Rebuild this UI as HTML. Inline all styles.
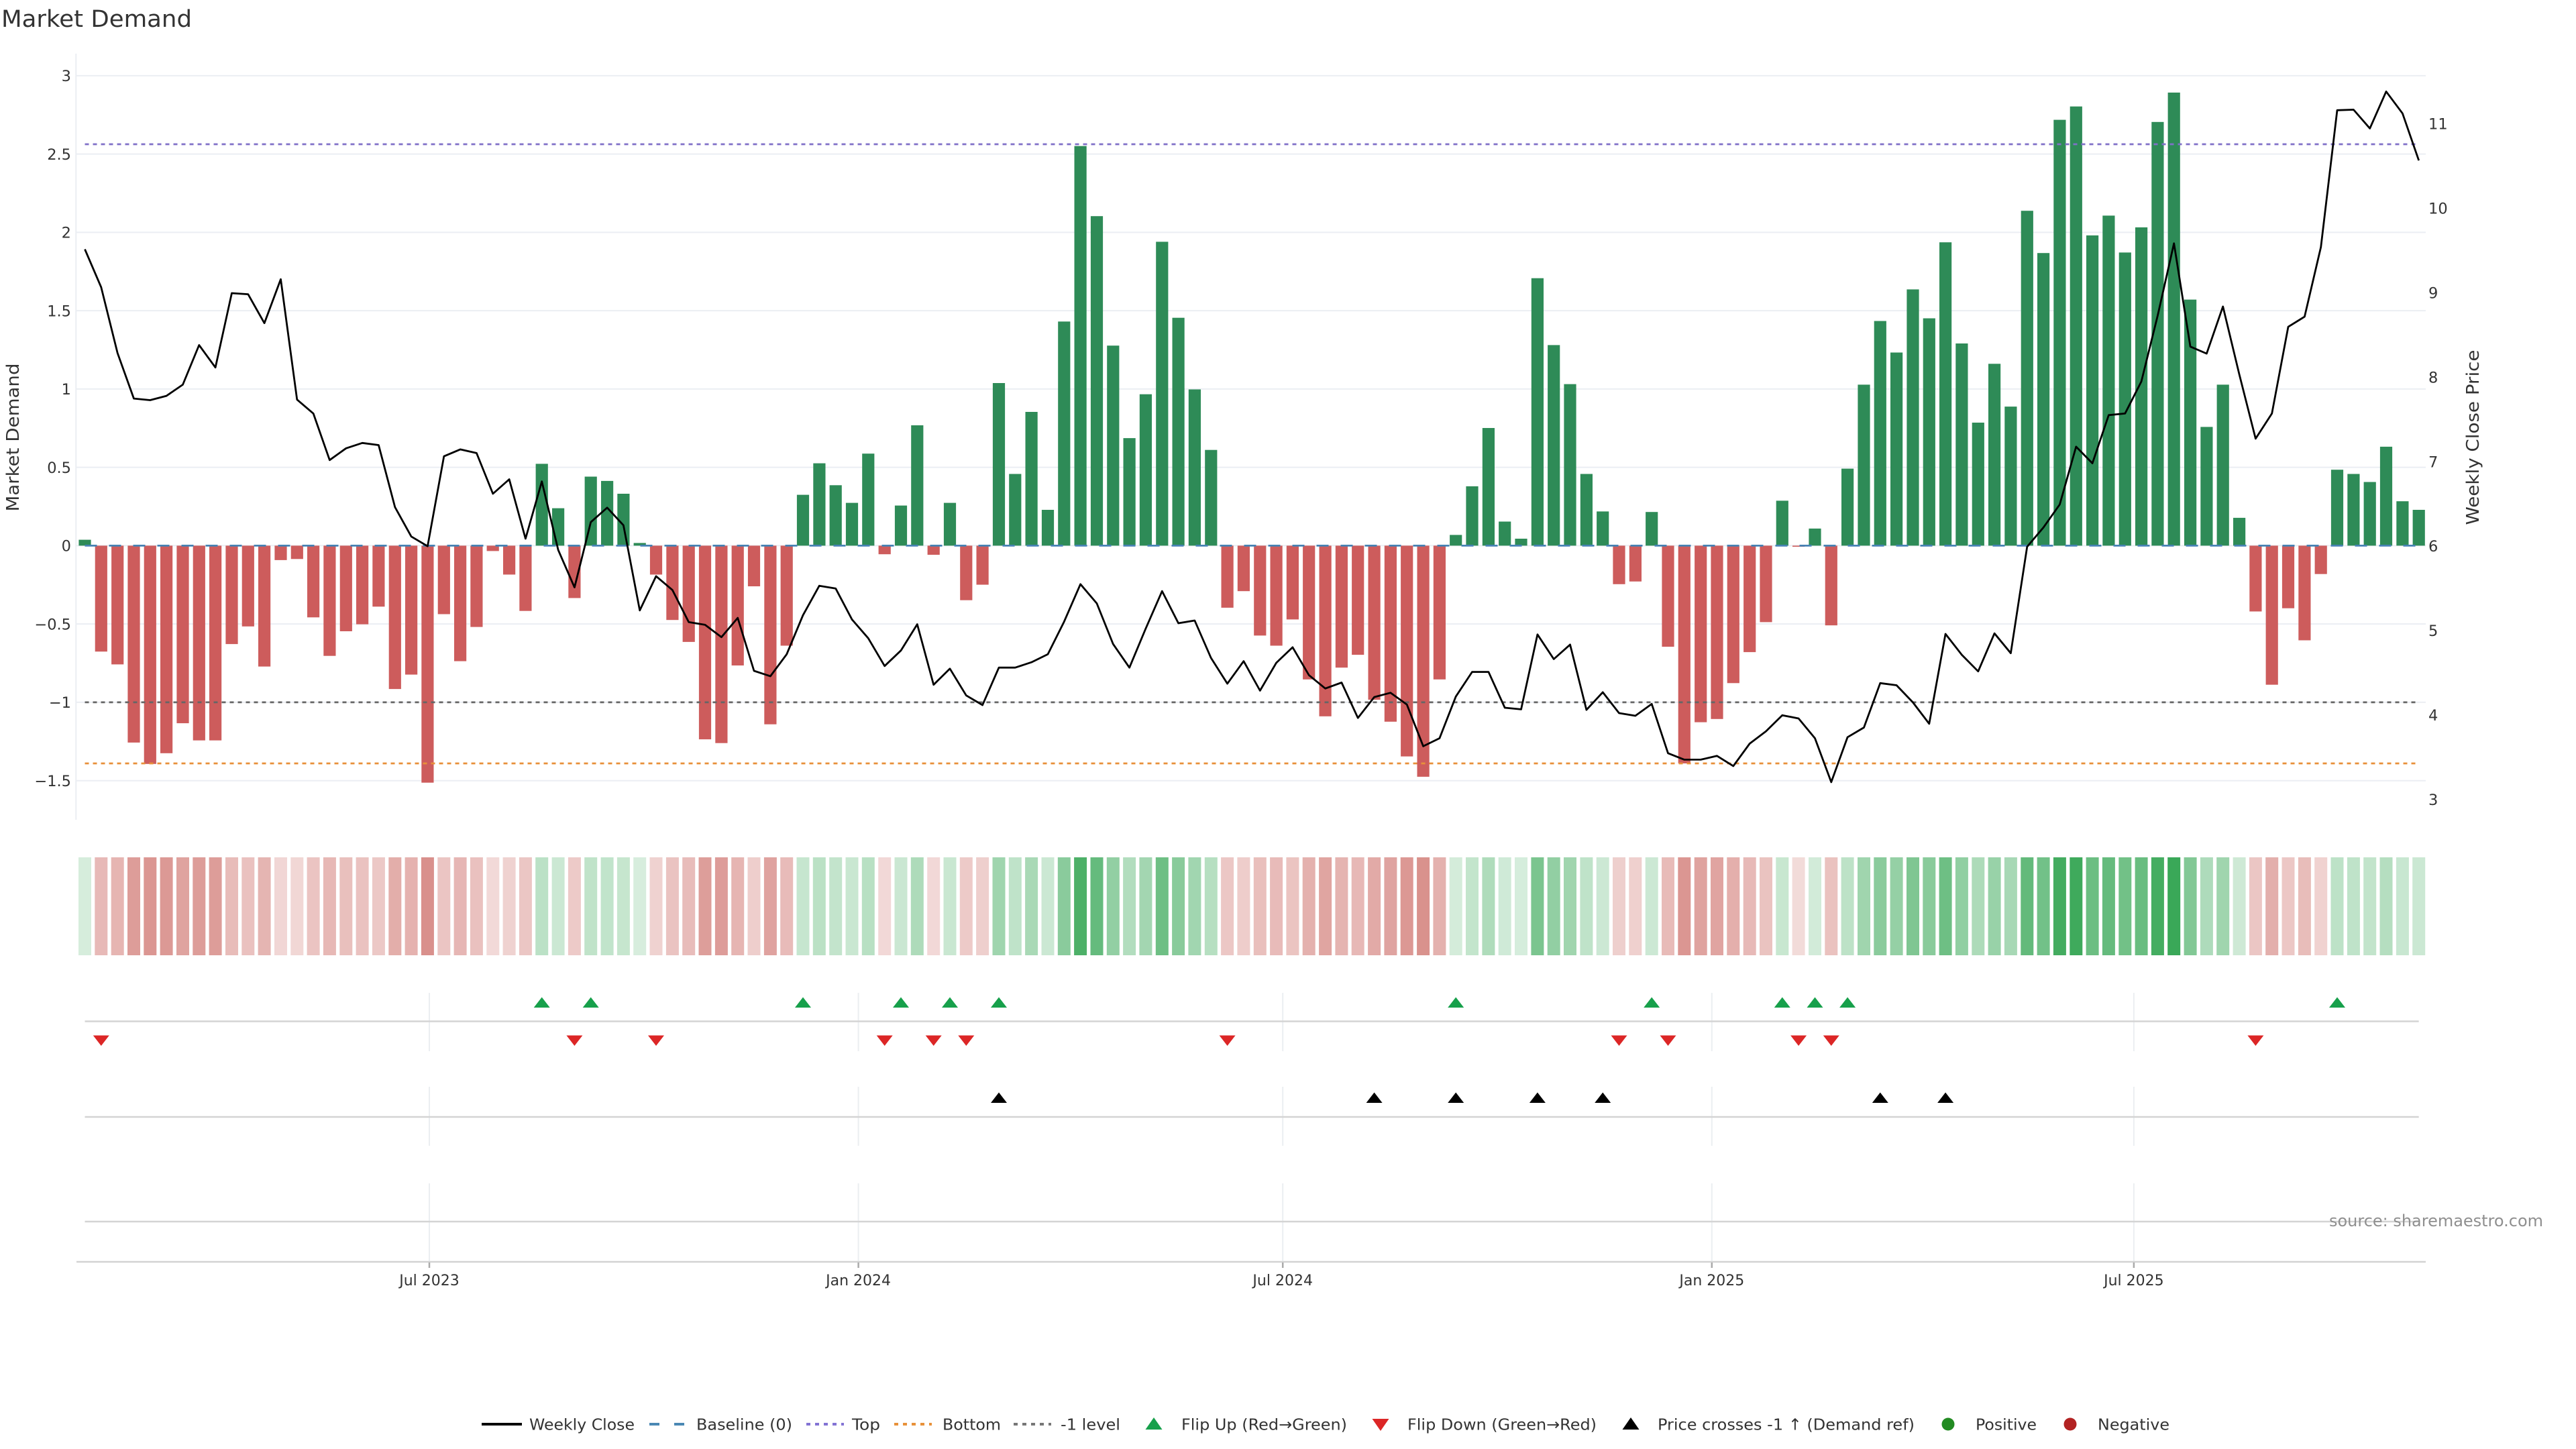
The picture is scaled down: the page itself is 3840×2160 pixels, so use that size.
<!DOCTYPE html>
<html>
<head>
<meta charset="utf-8">
<style>
html,body{margin:0;padding:0;background:#ffffff;}
svg{display:block;}
text{font-family:"DejaVu Sans","Liberation Sans",sans-serif;}
</style>
</head>
<body>
<svg id="c" width="3840" height="2160" viewBox="0 0 3840 2160" xmlns="http://www.w3.org/2000/svg">
  <rect x="0" y="0" width="3840" height="2160" fill="#ffffff"/>
  <!-- Title -->
  <text x="2" y="40" font-size="35" fill="#333" textLength="284" lengthAdjust="spacingAndGlyphs">Market Demand</text>

  <!-- gridlines main -->
  <g id="grid" stroke="#ebeef3" stroke-width="2"></g>
  <line x1="113.3" y1="80" x2="113.3" y2="1222" stroke="#ebeef3" stroke-width="2"/>

  <!-- left tick labels -->
  <g font-size="22.5" fill="#333" text-anchor="end">
    <text x="106" y="121.2">3</text>
    <text x="106" y="237.9">2.5</text>
    <text x="106" y="354.7">2</text>
    <text x="106" y="471.4">1.5</text>
    <text x="106" y="588.1">1</text>
    <text x="106" y="704.9">0.5</text>
    <text x="106" y="821.6">0</text>
    <text x="106" y="938.4">−0.5</text>
    <text x="106" y="1055.1">−1</text>
    <text x="106" y="1171.9">−1.5</text>
  </g>
  <!-- right tick labels -->
  <g font-size="22.5" fill="#333">
    <text x="3620" y="1199.9">3</text>
    <text x="3620" y="1074">4</text>
    <text x="3620" y="948.1">5</text>
    <text x="3620" y="822.2">6</text>
    <text x="3620" y="696.3">7</text>
    <text x="3620" y="570.4">8</text>
    <text x="3620" y="444.5">9</text>
    <text x="3620" y="318.6">10</text>
    <text x="3620" y="192.7">11</text>
  </g>
  <!-- axis titles -->
  <text transform="translate(28,652) rotate(-90)" font-size="26" fill="#333" text-anchor="middle" textLength="221" lengthAdjust="spacingAndGlyphs">Market Demand</text>
  <text transform="translate(3695,652) rotate(-90)" font-size="26" fill="#333" text-anchor="middle" textLength="261" lengthAdjust="spacingAndGlyphs">Weekly Close Price</text>

  <g id="bars"></g>
  <g id="levels"></g>
  <g id="price"></g>
  <g id="heat"></g>

  <!-- marker rows -->
  <g id="rows"></g>

  <!-- x axis -->
  <line x1="114" y1="1881" x2="3616" y2="1881" stroke="#d3d3d3" stroke-width="2.5"/>
  <g stroke="#aaaaaa" stroke-width="2.5">
    <line x1="640" y1="1882" x2="640" y2="1890"/>
    <line x1="1279.6" y1="1882" x2="1279.6" y2="1890"/>
    <line x1="1912.2" y1="1882" x2="1912.2" y2="1890"/>
    <line x1="2551.8" y1="1882" x2="2551.8" y2="1890"/>
    <line x1="3180.9" y1="1882" x2="3180.9" y2="1890"/>
  </g>
  <g font-size="22" fill="#333" text-anchor="middle">
    <text x="640" y="1916">Jul 2023</text>
    <text x="1279.6" y="1916">Jan 2024</text>
    <text x="1912.2" y="1916">Jul 2024</text>
    <text x="2551.8" y="1916">Jan 2025</text>
    <text x="3180.9" y="1916">Jul 2025</text>
  </g>

  <!-- source -->
  <text x="3472" y="1828" font-size="24" fill="#8f8f8f" textLength="319" lengthAdjust="spacingAndGlyphs">source: sharemaestro.com</text>

  <!-- Legend -->
  <g>
    <line x1="718" y1="2123" x2="778" y2="2123" stroke="#000" stroke-width="4"/>
    <text x="789" y="2131.5" font-size="23.5" fill="#333" textLength="157" lengthAdjust="spacingAndGlyphs">Weekly Close</text>

    <rect x="968" y="2121" width="15" height="4" fill="#4a88b4"/>
    <rect x="1005" y="2121" width="15" height="4" fill="#4a88b4"/>
    <text x="1038" y="2131.5" font-size="23.5" fill="#333" textLength="143" lengthAdjust="spacingAndGlyphs">Baseline (0)</text>

    <line x1="1202" y1="2123" x2="1258" y2="2123" stroke="#8373d4" stroke-width="4" stroke-dasharray="6,7"/>
    <text x="1270" y="2131.5" font-size="23.5" fill="#333" textLength="42" lengthAdjust="spacingAndGlyphs">Top</text>

    <line x1="1333" y1="2123" x2="1389" y2="2123" stroke="#e8913a" stroke-width="4" stroke-dasharray="6,7"/>
    <text x="1405" y="2131.5" font-size="23.5" fill="#333" textLength="87" lengthAdjust="spacingAndGlyphs">Bottom</text>

    <line x1="1511" y1="2123" x2="1567" y2="2123" stroke="#777" stroke-width="4" stroke-dasharray="6,7"/>
    <text x="1581" y="2131.5" font-size="23.5" fill="#333" textLength="89" lengthAdjust="spacingAndGlyphs">-1 level</text>

    <path d="M1707.5,2131 L1732.5,2131 L1720,2113 Z" fill="#17a04b"/>
    <text x="1761" y="2131.5" font-size="23.5" fill="#333" textLength="247" lengthAdjust="spacingAndGlyphs">Flip Up (Red→Green)</text>

    <path d="M2045.5,2115 L2070.5,2115 L2058,2133 Z" fill="#dc2626"/>
    <text x="2098" y="2131.5" font-size="23.5" fill="#333" textLength="282" lengthAdjust="spacingAndGlyphs">Flip Down (Green→Red)</text>

    <path d="M2418.5,2131 L2443.5,2131 L2431,2113 Z" fill="#000"/>
    <text x="2471" y="2131.5" font-size="23.5" fill="#333" textLength="383" lengthAdjust="spacingAndGlyphs">Price crosses -1 ↑ (Demand ref)</text>

    <circle cx="2904" cy="2123" r="9.5" fill="#228b22"/>
    <text x="2945" y="2131.5" font-size="23.5" fill="#333" textLength="91" lengthAdjust="spacingAndGlyphs">Positive</text>

    <circle cx="3086" cy="2123" r="9.5" fill="#b22222"/>
    <text x="3127" y="2131.5" font-size="23.5" fill="#333" textLength="107" lengthAdjust="spacingAndGlyphs">Negative</text>
  </g>
</svg>
<script>
(function(){
var NS="http://www.w3.org/2000/svg";
var B=[1009,1218,1242,1388,1428,1408,1352,1384,1384,1204,1171,1246,1047,1045,1154,1226,1180,1167,1134,1288,1261,1463,1148,1236,1172,1030,1074,1142,867,950,1118,891,899,923,1015,1074,1159,1200,1382,1389,1244,1096,1354,1207,925,866,907,940,848,
1036,945,795,1037,940,1122,1093,716,886,770,953,601,273,404,646,819,737,452,594,728,841,1136,1105,1188,1207,1158,1270,1339,1248,1224,1308,1349,1414,1452,1270,1000,909,800,975,1007,520,645,718,886,956,1092,1087,957,1209,1427,1350,1344,
1277,1219,1163,936,1022,988,1169,876,719,600,659,541,595,453,642,790,680,760,394,473,224,199,440,403,472,425,228,173,560,798,719,968,1143,1280,1137,1197,1073,878,886,901,835,937,953];
var P=[466,537,660,745,748,740,719,645,687,548,550,604,522,747,773,860,838,828,832,948,1003,1021,853,840,847,923,896,1007,900,1028,1098,976,949,982,1141,1077,1103,1163,1168,1191,1155,1254,1264,1223,1150,1095,1100,1158,1193,
1245,1216,1167,1280,1250,1300,1318,1248,1248,1238,1223,1162,1092,1128,1204,1248,1175,1105,1165,1160,1230,1278,1236,1291,1239,1210,1262,1287,1276,1342,1303,1295,1317,1395,1380,1302,1256,1256,1323,1326,1186,1232,1205,1327,1294,1333,1338,1316,1408,1420,1420,1413,
1432,1390,1367,1337,1343,1380,1462,1378,1360,1277,1281,1313,1353,1185,1224,1255,1184,1221,1022,986,943,835,866,776,773,713,590,455,648,661,573,700,820,773,611,592,462,206,205,240,171,212,300];
var S=1.254, X0=126.5, DX=24.33, BW=18.2, Z=813.4, U=233.5;
var N=Math.min(B.length,P.length);
function cx(i){return X0+DX*i;}

// grid
var g='';
for(var k=0;k<10;k++){var v=3-0.5*k;var y=(Z-U*v).toFixed(1);
 g+='<line x1="113" y1="'+y+'" x2="3616" y2="'+y+'"/>';}
document.getElementById('grid').innerHTML=g;

// bars
var s='';
for(var i=0;i<N;i++){
 var y=B[i]/S, v=(Z-y)/U, top=Math.min(y,Z), h=Math.abs(y-Z);
 if(h<1.5){h=1.5; top=(v<0)?Z:Z-1.5;}
 s+='<rect x="'+(cx(i)-BW/2).toFixed(1)+'" y="'+top.toFixed(1)+'" width="'+BW+'" height="'+h.toFixed(1)+'" fill="'+(v>=0?'#2e8b57':'#cd5c5c')+'"/>';
}
document.getElementById('bars').innerHTML=s;

// levels
var xa=X0, xb=cx(N-1);
var L='';
L+='<line x1="'+xa+'" y1="215" x2="'+xb+'" y2="215" stroke="#8070c8" stroke-width="2.7" stroke-dasharray="6,6"/>';
L+='<line x1="'+xa+'" y1="1138" x2="'+xb+'" y2="1138" stroke="#e8903a" stroke-width="2.7" stroke-dasharray="6,6"/>';
L+='<line x1="'+xa+'" y1="1046.9" x2="'+xb+'" y2="1046.9" stroke="#666" stroke-width="2.7" stroke-dasharray="6,6"/>';
L+='<line x1="'+xa+'" y1="'+Z+'" x2="'+xb+'" y2="'+Z+'" stroke="#4682b4" stroke-width="2.7" stroke-dasharray="18,18"/>';
document.getElementById('levels').innerHTML=L;

// price line
var pts=[];
for(var i=0;i<N;i++){pts.push(cx(i).toFixed(1)+','+(P[i]/S).toFixed(1));}
document.getElementById('price').innerHTML='<polyline points="'+pts.join(' ')+'" fill="none" stroke="#000" stroke-width="2.8" stroke-linejoin="round"/>';

// heat
var H='';
for(var i=0;i<N;i++){
 var y=B[i]/S, v=(Z-y)/U;
 var t=Math.min(Math.abs(v)/2.9,1), a=0.2+0.8*t;
 var base=v>=0?[58,168,88]:[193,75,68];
 var c=base.map(function(q){return Math.round(255-(255-q)*a);});
 H+='<rect x="'+(cx(i)-9.5).toFixed(1)+'" y="1278" width="19" height="146" fill="rgb('+c.join(',')+')"/>';
}
document.getElementById('heat').innerHTML=H;

// rows
var R='';
var dates=[640,1279.6,1912.2,2551.8,3180.9];
var bands=[[1480,1567],[1620,1708],[1764,1880]];
for(var d=0;d<dates.length;d++){for(var b=0;b<3;b++){
 R+='<line x1="'+dates[d]+'" y1="'+bands[b][0]+'" x2="'+dates[d]+'" y2="'+bands[b][1]+'" stroke="#ebeef1" stroke-width="2"/>';}}
var hl=[1522.5,1665,1821];
for(var k=0;k<3;k++){R+='<line x1="'+xa+'" y1="'+hl[k]+'" x2="'+xb+'" y2="'+hl[k]+'" stroke="#d4d4d4" stroke-width="2.5"/>';}
var up=[28,31,44,50,53,56,84,96,104,106,108,138];
var dn=[1,30,35,49,52,54,70,94,97,105,107,133];
var cr=[56,79,84,89,93,110,114];
function tu(x,ap,col){return '<path d="M'+(x-12).toFixed(1)+','+(ap+15.5)+' L'+(x+12).toFixed(1)+','+(ap+15.5)+' L'+x.toFixed(1)+','+ap+' Z" fill="'+col+'"/>';}
function td(x,tp,col){return '<path d="M'+(x-12).toFixed(1)+','+tp+' L'+(x+12).toFixed(1)+','+tp+' L'+x.toFixed(1)+','+(tp+15.5)+' Z" fill="'+col+'"/>';}
up.forEach(function(i){R+=tu(cx(i),1486.5,'#17a04b');});
dn.forEach(function(i){R+=td(cx(i),1543.5,'#dc2626');});
cr.forEach(function(i){R+=tu(cx(i),1628.5,'#000');});
document.getElementById('rows').innerHTML=R;
})();
</script>
</body>
</html>
